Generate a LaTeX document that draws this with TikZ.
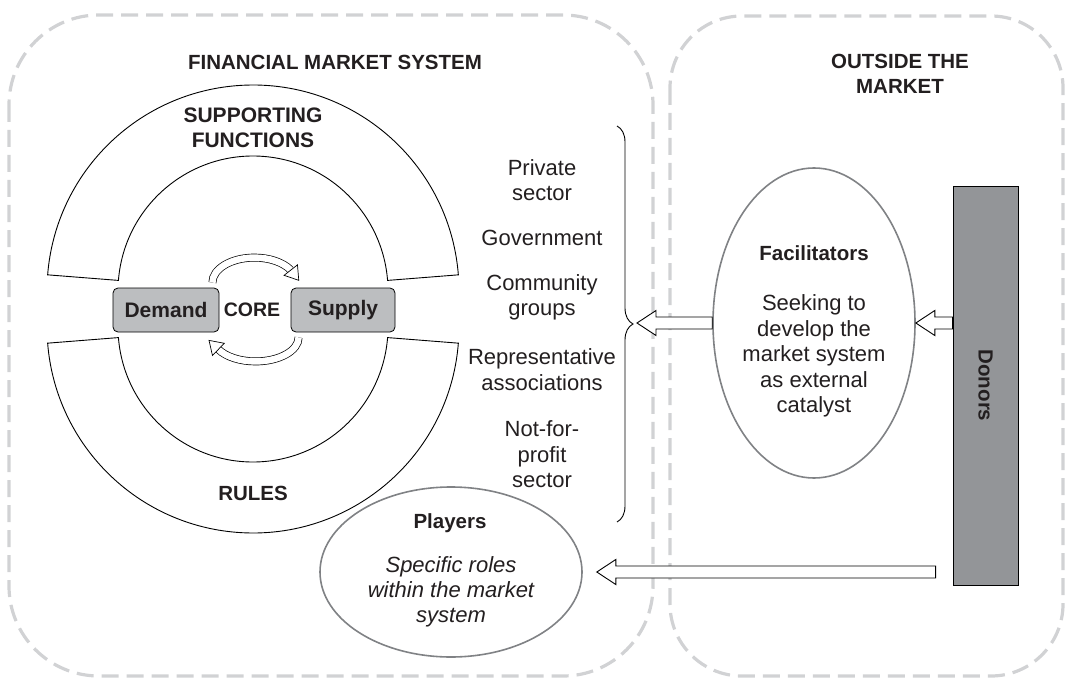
\documentclass[tikz,border=0pt]{standalone}
\usepackage{fontspec}
\setmainfont{Liberation Sans}
\usetikzlibrary{calc,shapes.geometric,decorations.pathreplacing}
\definecolor{dashgray}{HTML}{D1D2D4}
\definecolor{coregray}{HTML}{BCBEC0}
\definecolor{donorgray}{HTML}{939598}
\definecolor{ellgray}{HTML}{808285}
\definecolor{txt}{HTML}{231F20}
\newcommand\hollowarrow[2]{%
  \draw[blockarrow] let \p1=(#1), \p2=(#2) in
    (\x1,\y1+6pt) -- (\x2+19pt,\y1+6pt) -- (\x2+19pt,\y1+12.5pt) -- (\x2,\y1)
    -- (\x2+19pt,\y1-12.5pt) -- (\x2+19pt,\y1-6pt) -- (\x1,\y1-6pt) -- cycle;}
\begin{document}
\begin{tikzpicture}[x=1pt,y=1pt,
  zone/.style={draw=dashgray, line width=3.2pt, dash pattern=on 17pt off 8pt},
  ring/.style={draw=black, line width=0.9pt},
  corebox/.style={draw=black, line width=0.8pt, fill=coregray, rounded corners=5pt,
    minimum height=44pt, inner sep=0pt, text=txt, font=\fontsize{21}{25}\selectfont\bfseries},
  bold/.style={font=\fontsize{20.5}{25}\selectfont\bfseries, text=txt, align=center, inner sep=0pt},
  plain/.style={font=\fontsize{22}{25.5}\selectfont, text=txt, align=center, inner sep=0pt},
  ital/.style={font=\fontsize{22}{25}\selectfont\itshape, text=txt, align=center, inner sep=0pt},
  actor/.style={ellipse, draw=ellgray, line width=1.6pt, fill=white, inner sep=0pt},
  blockarrow/.style={draw=black, line width=0.9pt, fill=white, line join=miter},
  turn/.style={draw=black, line width=0.7pt, double=white, double distance=6.5pt},
  turnhead/.style={draw=black, line width=0.7pt, fill=white, line join=miter}
]
\useasboundingbox (0,0) rectangle (1065,-679);

% zones
\draw[zone, rounded corners=90pt] (9,-15) rectangle (653,-676);
\draw[zone, rounded corners=72pt] (670,-16) rectangle (1063,-676);

\node[bold] (title1) at (335,-62) {FINANCIAL MARKET SYSTEM};
\node[bold] (title2) at (900,-74) {OUTSIDE THE\\MARKET};

% supporting functions ring
\coordinate (ctop) at (253,-291);
\coordinate (cbot) at (253,-327);
\draw[ring] ([shift={(4.5:206)}]ctop) arc[start angle=4.5, end angle=175.5, radius=206]
  -- ([shift={(175.5:135)}]ctop) arc[start angle=175.5, end angle=4.5, radius=135] -- cycle;
\draw[ring] ([shift={(-4.5:206)}]cbot) arc[start angle=-4.5, end angle=-175.5, radius=206]
  -- ([shift={(-175.5:135)}]cbot) arc[start angle=-175.5, end angle=-4.5, radius=135] -- cycle;
\node[bold, font=\fontsize{21}{25}\selectfont\bfseries] (supp) at (253,-127.5) {SUPPORTING\\FUNCTIONS};
\node[bold] (rules) at (253,-493) {RULES};

% core
\node[corebox, minimum width=106pt] (dem) at (166,-310) {Demand};
\node[corebox, minimum width=104pt] (sup) at (343,-310) {Supply};
\node[bold, font=\fontsize{19.5}{25}\selectfont\bfseries] (core) at (252,-310) {CORE};

\draw[turn] ($(dem.north east)+(-7pt,5pt)$) arc[start angle=180, end angle=30, x radius=42, y radius=25] coordinate (e1);
\draw[turnhead] ([shift={(38:8.5)}]e1) -- ([shift={(-52:13)}]e1) -- ([shift={(218:8.5)}]e1) -- cycle;
\draw[turn] ($(sup.south west)+(8pt,-5pt)$) arc[start angle=0, end angle=-150, x radius=43, y radius=24] coordinate (e2);
\draw[turnhead] ([shift={(226:8.5)}]e2) -- ([shift={(136:13)}]e2) -- ([shift={(46:8.5)}]e2) -- cycle;

% players list
\node[plain] (priv) at (542,-180) {Private\\sector};
\node[plain] (gov) at (542,-238) {Government};
\node[plain] (comm) at (542,-297.5) {Community\\groups};
\node[plain] (rep) at (542,-369.5) {Representative\\associations};
\node[plain] (nfp) at (542,-454.5) {Not-for-\\profit\\sector};

\draw[decorate, decoration={brace, amplitude=16pt}, line width=0.9pt] (617,-126) -- (617,-522);
\coordinate (btip) at (637,-324);

% players ellipse
\node[actor, minimum width=262pt, minimum height=170pt] (pl) at (451,-572) {};
\node[bold] (pltitle) at (450,-523) {Players};
\node[ital] (pltext) at (451,-592) {Specific roles\\within the market\\system};

% facilitators
\node[actor, minimum width=202pt, minimum height=310pt] (fac) at (814,-323) {};
\node[bold] (factitle) at (814,-253) {Facilitators};
\node[plain] (factext) at (814,-356) {Seeking to\\develop the\\market system\\as external\\catalyst};

% donors
\node[draw=black, line width=0.8pt, fill=donorgray, minimum width=65pt, minimum height=399pt, inner sep=0pt] (donors) at (985.5,-385.5) {};
\node[bold, rotate=-90] (donlabel) at (donors.center) {Donors};

% block arrows
\hollowarrow{fac.west}{btip}
\hollowarrow{fac.east -| donors.west}{fac.east}
\coordinate (tailp) at ($(pl.east -| donors.west)+(-17pt,0)$);
\coordinate (tipp) at ($(pl.east)+(14pt,0)$);
\hollowarrow{tailp}{tipp}
\end{tikzpicture}
\end{document}
